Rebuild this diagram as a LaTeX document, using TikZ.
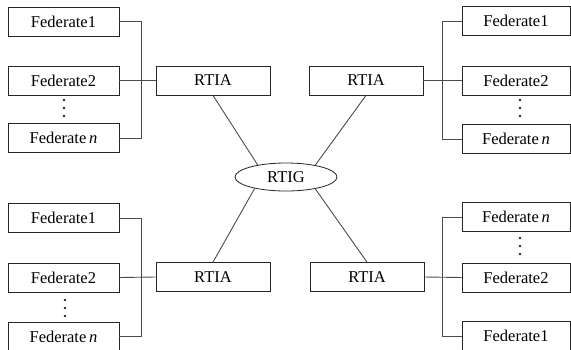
\documentclass[tikz,border=0pt]{standalone}
\usepackage{fontspec}
\setmainfont{Liberation Serif}
\usetikzlibrary{shapes.geometric}
\begin{document}
\begin{tikzpicture}[x=1pt,y=-1pt,
  fed/.style={draw=black!85,line width=0.8pt,minimum width=111pt,minimum height=29pt,inner sep=0pt,font=\fontsize{16.5}{18}\selectfont},
  fedr/.style={fed,minimum width=108pt},
  rtia/.style={draw=black!85,line width=0.8pt,minimum width=114pt,minimum height=29pt,inner sep=0pt,font=\fontsize{16.5}{18}\selectfont},
  rtig/.style={draw=black!85,line width=0.8pt,ellipse,minimum width=102pt,minimum height=28pt,inner sep=0pt,font=\fontsize{16.5}{18}\selectfont},
  wire/.style={draw=black!70,line width=0.9pt},
  dotm/.style={fill=black!85,draw=none,circle,minimum size=2.6pt,inner sep=0pt}]
\useasboundingbox (0,0) rectangle (571,349);
\fill[white] (0,0) rectangle (571,349);
% centre
\node[rtig] (g) at (286,177) {RTIG};
% top-left
\node[fed] (a1) at (63.5,21.5) {Federate1};
\node[fed] (a2) at (63.5,80.5) {Federate2};
\node[fed] (an) at (63.5,138) {Federate\,\textit{n}};
\node[rtia] (ra) at (213,80.5) {RTIA};
\node[dotm] (ad1) at (64,100) {};
\node[dotm] (ad2) at (64,108) {};
\node[dotm] (ad3) at (64,116) {};
\coordinate (ba) at (141,0);
% top-right
\node[fedr] (b1) at (516,21) {Federate1};
\node[fedr] (b2) at (516,80.5) {Federate2};
\node[fedr] (bn) at (516,139) {Federate\,\textit{n}};
\node[rtia] (rb) at (366,80.5) {RTIA};
\node[dotm] (bd1) at (520,100) {};
\node[dotm] (bd2) at (520,108) {};
\node[dotm] (bd3) at (520,116) {};
\coordinate (bb) at (442,0);
% bottom-left
\node[fed] (c1) at (63.5,218) {Federate1};
\node[fed] (c2) at (63.5,277.5) {Federate2};
\node[fed] (cn) at (63.5,336.5) {Federate\,\textit{n}};
\node[rtia] (rc) at (213,277) {RTIA};
\node[dotm] (cd1) at (65,300) {};
\node[dotm] (cd2) at (65,308) {};
\node[dotm] (cd3) at (65,316) {};
\coordinate (bc) at (141,0);
% bottom-right
\node[fedr] (dn) at (516,217) {Federate\,\textit{n}};
\node[fedr] (d2) at (516,277.5) {Federate2};
\node[fedr] (d1) at (516,336) {Federate1};
\node[rtia] (rd) at (367,277) {RTIA};
\node[dotm] (dd1) at (520,238) {};
\node[dotm] (dd2) at (520,246) {};
\node[dotm] (dd3) at (520,254) {};
\coordinate (bd) at (442,0);
% buses
\draw[wire] (a1.east) -- (a1.east -| ba) -- (an.east -| ba) -- (an.east);
\draw[wire] (a2.east) -- (ra.west);
\draw[wire] (b1.west) -- (b1.west -| bb) -- (bn.west -| bb) -- (bn.west);
\draw[wire] (b2.west) -- (rb.east);
\draw[wire] (c1.east) -- (c1.east -| bc) -- (cn.east -| bc) -- (cn.east);
\draw[wire] (c2.east) -- (rc.west);
\draw[wire] (dn.west) -- (dn.west -| bd) -- (d1.west -| bd) -- (d1.west);
\draw[wire] (d2.west) -- (rd.east);
% links to RTIG
\draw[wire] (ra.south) -- (g.157);
\draw[wire] (rb.south) -- (g.22);
\draw[wire] (rc.north) -- (g.200);
\draw[wire] (rd.north) -- (g.338);
\end{tikzpicture}
\end{document}
